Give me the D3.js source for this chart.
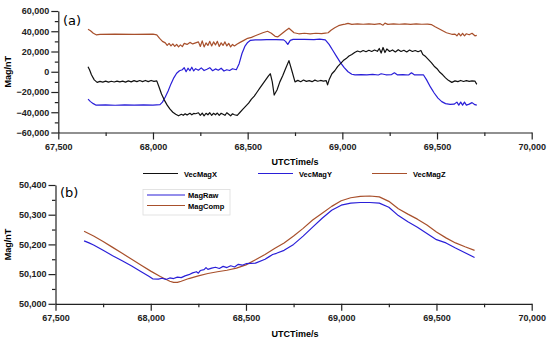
<!DOCTYPE html>
<html>
<head>
<meta charset="utf-8">
<script src="https://cdn.jsdelivr.net/npm/d3@7"></script>
<style>
  body { margin: 0; background: #fff; }
  svg { display: block; font-family: 'Liberation Sans', Arial, sans-serif; }
  .axis text { font-size: 9px; font-weight: bold; fill: #222; }
  .axis path, .axis line { stroke: #222; stroke-width: 1.2; }
</style>
</head>
<body>
<div id="chart"></div>
<script>
// ---- data: [UTC time s, nT] ----
const vecMagX = [
  [67657, 5000], [67665, 2000], [67675, -3000], [67690, -8000], [67705, -10500], [67720, -9500],
  [67735, -10200], [67750, -9300], [67765, -10300], [67780, -9400], [67795, -10100], [67810, -9200],
  [67825, -10000], [67840, -9300], [67855, -10200], [67870, -9000], [67885, -10000], [67900, -8800],
  [67915, -9800], [67930, -8700], [67945, -9700], [67960, -8600], [67975, -9800], [67990, -8600],
  [68005, -9500], [68020, -9000], [68030, -14000], [68045, -22000], [68060, -28000], [68075, -33000],
  [68090, -37000], [68105, -40000], [68120, -42000], [68135, -43500], [68150, -42000], [68160, -43000],
  [68170, -41500], [68180, -42800], [68195, -41000], [68205, -42500], [68215, -41200], [68225, -41500],
  [68240, -40500], [68250, -43000], [68260, -40800], [68270, -43500], [68280, -41000], [68290, -42500],
  [68300, -40500], [68310, -43000], [68320, -41000], [68330, -42500], [68340, -40800], [68350, -43000],
  [68360, -41000], [68370, -42000], [68380, -43000], [68390, -40500], [68400, -42000], [68410, -43500],
  [68420, -41500], [68430, -42500], [68445, -43000], [68460, -40000], [68475, -37000], [68490, -34000],
  [68505, -31000], [68520, -27000], [68535, -24000], [68550, -20000], [68565, -16000], [68580, -12000],
  [68595, -8000], [68610, -4000], [68620, -2000], [68630, -10000], [68640, -23000], [68655, -18000],
  [68670, -10000], [68685, -4000], [68700, 3000], [68718, 11000], [68735, 0], [68750, -10000],
  [68765, -8500], [68780, -9800], [68795, -8200], [68810, -9500], [68825, -8800], [68840, -9800],
  [68855, -8300], [68870, -9400], [68885, -8600], [68900, -9200], [68915, -8800], [68922, -13000],
  [68930, -8000], [68945, -2000], [68960, 1000], [68975, 5000], [68990, 8000], [69005, 11000],
  [69020, 13000], [69035, 15500], [69050, 17000], [69065, 19000], [69080, 20500], [69095, 19500],
  [69110, 21000], [69125, 19800], [69140, 21200], [69155, 20000], [69170, 21500], [69185, 20200],
  [69195, 23000], [69205, 18500], [69215, 24000], [69225, 19000], [69235, 22500], [69250, 20000],
  [69265, 21500], [69280, 19500], [69295, 21800], [69310, 20000], [69325, 21200], [69340, 19600],
  [69355, 21400], [69370, 20000], [69385, 21000], [69400, 19800], [69415, 21000], [69425, 17000],
  [69440, 15000], [69455, 12000], [69470, 9000], [69485, 5500], [69500, 3000], [69515, -500],
  [69530, -3000], [69545, -6000], [69560, -8500], [69578, -10500], [69595, -9000], [69610, -9800],
  [69625, -8600], [69640, -9600], [69655, -8800], [69670, -9500], [69685, -9000], [69700, -9200],
  [69710, -12500]
];

const vecMagY = [
  [67657, -27000], [67670, -29500], [67685, -31500], [67700, -33000], [67750, -32800], [67800, -33100],
  [67850, -32800], [67900, -33000], [67950, -32700], [68000, -33000], [68037, -32500], [68050, -30000],
  [68065, -25000], [68080, -19000], [68095, -12000], [68110, -6000], [68125, -1500], [68140, 1000],
  [68155, 2000], [68165, 4000], [68175, 0], [68185, 3500], [68195, 1000], [68205, 4500], [68215, 800],
  [68225, 3000], [68240, 1500], [68255, 3800], [68270, 1200], [68285, 2500], [68300, 4000], [68315, 1000],
  [68330, 2800], [68345, 1500], [68360, 3500], [68375, 700], [68390, 2000], [68405, 1200], [68420, 3000],
  [68440, 2000], [68455, 8000], [68470, 18000], [68485, 25000], [68500, 29000], [68515, 31000],
  [68540, 31500], [68570, 31500], [68600, 31800], [68650, 31800], [68690, 31500], [68700, 30000],
  [68712, 27000], [68725, 31000], [68740, 32000], [68800, 32000], [68850, 31800], [68880, 32200],
  [68910, 31500], [68930, 27000], [68950, 21000], [68970, 15000], [68990, 9000], [69010, 4000],
  [69030, 0], [69050, -2500], [69067, -3000], [69100, -2800], [69130, -3000], [69160, -2500],
  [69190, -3200], [69205, -2000], [69230, -3000], [69260, -2800], [69275, -1000], [69290, -3000],
  [69320, -2800], [69350, -3200], [69365, -1000], [69380, -3000], [69428, -3000], [69445, -8000],
  [69465, -15000], [69485, -21000], [69505, -26000], [69525, -29500], [69545, -31500], [69569, -32200],
  [69590, -32000], [69605, -30000], [69615, -33000], [69625, -30000], [69635, -33000], [69645, -30000],
  [69655, -33000], [69670, -32000], [69685, -30500], [69700, -32500], [69710, -33000]
];

const vecMagZ = [
  [67657, 42000], [67670, 40500], [67685, 38000], [67700, 36500], [67720, 37000], [67800, 37200],
  [67900, 37000], [68000, 37200], [68020, 36500], [68035, 33000], [68050, 30000], [68065, 28500],
  [68075, 26000], [68085, 28000], [68095, 25500], [68105, 27500], [68115, 25000], [68125, 27000],
  [68135, 24500], [68145, 26500], [68155, 24800], [68165, 28000], [68180, 27000], [68195, 29000],
  [68210, 27500], [68225, 28500], [68240, 29500], [68250, 25000], [68260, 30500], [68270, 24500],
  [68280, 28500], [68290, 26000], [68300, 30000], [68310, 25500], [68320, 29500], [68330, 26500],
  [68340, 30000], [68350, 25000], [68360, 28500], [68370, 26000], [68380, 29500], [68390, 25500],
  [68400, 28000], [68410, 24500], [68420, 27000], [68430, 25500], [68445, 27500], [68460, 29000],
  [68480, 31000], [68500, 33000], [68520, 34000], [68540, 35500], [68560, 37000], [68580, 38500],
  [68605, 40000], [68625, 38000], [68645, 35000], [68660, 34500], [68680, 37500], [68700, 40500],
  [68718, 43000], [68745, 38500], [68770, 37500], [68800, 38000], [68830, 37500], [68860, 38000],
  [68890, 37600], [68910, 38200], [68925, 38500], [68940, 41000], [68960, 43500], [68980, 45500],
  [69000, 46500], [69015, 47000], [69030, 47800], [69050, 46800], [69080, 47200], [69110, 46900],
  [69140, 47300], [69170, 46800], [69200, 47500], [69215, 46000], [69225, 48000], [69240, 46800],
  [69270, 47200], [69300, 46900], [69330, 47300], [69360, 46800], [69390, 47300], [69420, 46900],
  [69450, 47000], [69472, 46500], [69490, 44500], [69510, 42500], [69530, 40500], [69550, 38500],
  [69578, 37000], [69595, 37200], [69605, 35500], [69615, 38000], [69625, 35500], [69635, 38000],
  [69645, 35500], [69655, 37500], [69670, 36500], [69685, 38000], [69700, 35500], [69710, 36000]
];

const magRaw = [
  [67650, 50212], [67676, 50205], [67700, 50198], [67750, 50180], [67800, 50162], [67850, 50145],
  [67900, 50127], [67950, 50108], [67990, 50093], [68010, 50084], [68040, 50083], [68060, 50086],
  [68080, 50082], [68100, 50087], [68120, 50085], [68140, 50090], [68160, 50088], [68180, 50094],
  [68200, 50098], [68220, 50104], [68240, 50108], [68250, 50103], [68260, 50112], [68280, 50115],
  [68290, 50122], [68300, 50116], [68320, 50120], [68340, 50123], [68360, 50119], [68380, 50126],
  [68400, 50122], [68420, 50128], [68440, 50124], [68460, 50133], [68480, 50130], [68500, 50135],
  [68550, 50137], [68600, 50150], [68620, 50158], [68640, 50166], [68660, 50170], [68700, 50180],
  [68750, 50200], [68800, 50228], [68850, 50258], [68900, 50288], [68950, 50315], [69000, 50332],
  [69050, 50339], [69100, 50341], [69150, 50341], [69200, 50339], [69250, 50325], [69300, 50297],
  [69350, 50276], [69400, 50258], [69450, 50237], [69500, 50216], [69550, 50205], [69600, 50188],
  [69650, 50172], [69700, 50156]
];

const magComp = [
  [67650, 50244], [67700, 50228], [67750, 50210], [67800, 50190], [67850, 50170], [67900, 50150],
  [67950, 50130], [68000, 50110], [68050, 50092], [68100, 50076], [68120, 50072], [68140, 50072],
  [68160, 50076], [68200, 50085], [68250, 50094], [68300, 50102], [68350, 50108], [68400, 50113],
  [68450, 50120], [68500, 50131], [68550, 50148], [68600, 50166], [68650, 50186], [68700, 50205],
  [68750, 50228], [68800, 50254], [68850, 50282], [68900, 50305], [68950, 50328], [69000, 50347],
  [69050, 50357], [69100, 50362], [69150, 50363], [69200, 50360], [69250, 50345], [69300, 50320],
  [69350, 50302], [69400, 50285], [69450, 50265], [69500, 50242], [69550, 50222], [69600, 50205],
  [69650, 50192], [69700, 50180]
];

const xTicks = [67500, 68000, 68500, 69000, 69500, 70000];
const xMinor = [67750, 68250, 68750, 69250, 69750];
const topTicks = [-60000, -40000, -20000, 0, 20000, 40000, 60000];
const topMinor = [-50000, -30000, -10000, 10000, 30000, 50000];
const botTicks = [50000, 50100, 50200, 50300, 50400];
const botMinor = [50050, 50150, 50250, 50350];

const C_X = '#111111', C_Y = '#2a1fd8', C_Z = '#a8502c';

const W = 550, H = 341;
const svg = d3.select('#chart').append('svg').attr('width', W).attr('height', H);
const fmt = d3.format(',');

function panel(xRange, yRange, yDomain, yTicks, yMinor, xLabelY) {
  const x = d3.scaleLinear().domain([67500, 70000]).range(xRange);
  const y = d3.scaleLinear().domain(yDomain).range(yRange);
  const g = svg.append('g');
  // minor ticks
  g.append('g').attr('class', 'axis')
    .attr('transform', `translate(0,${yRange[0]})`)
    .call(d3.axisBottom(x).tickValues(xMinor).tickSize(3.5).tickFormat(''))
    .select('.domain').remove();
  g.append('g').attr('class', 'axis')
    .attr('transform', `translate(${xRange[0]},0)`)
    .call(d3.axisLeft(y).tickValues(yMinor).tickSize(3.5).tickFormat(''))
    .select('.domain').remove();
  const xa = g.append('g').attr('class', 'axis')
    .attr('transform', `translate(0,${yRange[0]})`)
    .call(d3.axisBottom(x).tickValues(xTicks).tickSize(7).tickSizeOuter(0).tickPadding(4).tickFormat(fmt));
  g.append('g').attr('class', 'axis')
    .attr('transform', `translate(${xRange[0]},0)`)
    .call(d3.axisLeft(y).tickValues(yTicks).tickSize(7).tickSizeOuter(0).tickPadding(2).tickFormat(fmt));
  svg.append('text')
    .attr('x', 295).attr('y', xLabelY)
    .attr('text-anchor', 'middle')
    .style('font-size', '9px').style('font-weight', 'bold')
    .text('UTCTime/s');
  svg.append('text')
    .attr('transform', `translate(11,${(yRange[0] + yRange[1]) / 2}) rotate(-90)`)
    .attr('text-anchor', 'middle')
    .style('font-size', '9px').style('font-weight', 'bold')
    .text('Mag/nT');
  return { x, y, g };
}

function drawLine(p, data, color) {
  const line = d3.line().x(d => p.x(d[0])).y(d => p.y(d[1]));
  p.g.append('path')
    .datum(data)
    .attr('d', line)
    .attr('fill', 'none')
    .attr('stroke', color)
    .attr('stroke-width', 1.2)
    .attr('stroke-linejoin', 'round');
}

// top panel (a)
const pa = panel([58.3, 531.7], [132.5, 11], [-60000, 60000], topTicks, topMinor, 165);
drawLine(pa, vecMagZ, C_Z);
drawLine(pa, vecMagY, C_Y);
drawLine(pa, vecMagX, C_X);
svg.append('text').attr('x', 63).attr('y', 25)
  .style('font-size', '13px').style('font-family', "'DejaVu Sans', sans-serif").text('(a)');

// legend row for (a)
const legA = [
  { name: 'VecMagX', color: C_X, x: 143 },
  { name: 'VecMagY', color: C_Y, x: 258 },
  { name: 'VecMagZ', color: C_Z, x: 372 }
];
legA.forEach(l => {
  svg.append('line').attr('x1', l.x).attr('x2', l.x + 35).attr('y1', 173.5).attr('y2', 173.5)
    .attr('stroke', l.color).attr('stroke-width', 1.2);
  svg.append('text').attr('x', l.x + 41).attr('y', 176.5)
    .style('font-size', '7.5px').style('font-weight', 'bold').text(l.name);
});

// bottom panel (b)
const pb = panel([55.5, 531.7], [303.8, 185], [50000, 50400], botTicks, botMinor, 337);
drawLine(pb, magComp, C_Z);
drawLine(pb, magRaw, C_Y);
svg.append('text').attr('x', 60).attr('y', 197)
  .style('font-size', '13px').style('font-family', "'DejaVu Sans', sans-serif").text('(b)');

// legend box for (b)
svg.append('rect').attr('x', 143).attr('y', 189.5).attr('width', 87).attr('height', 25.5)
  .attr('fill', '#fff').attr('stroke', '#ddd').attr('stroke-width', 0.8);
const legB = [
  { name: 'MagRaw', color: C_Y, y: 195 },
  { name: 'MagComp', color: C_Z, y: 205.5 }
];
legB.forEach(l => {
  svg.append('line').attr('x1', 147).attr('x2', 185).attr('y1', l.y).attr('y2', l.y)
    .attr('stroke', l.color).attr('stroke-width', 1.2);
  svg.append('text').attr('x', 188).attr('y', l.y + 3)
    .style('font-size', '7.5px').style('font-weight', 'bold').text(l.name);
});
</script>
</body>
</html>
